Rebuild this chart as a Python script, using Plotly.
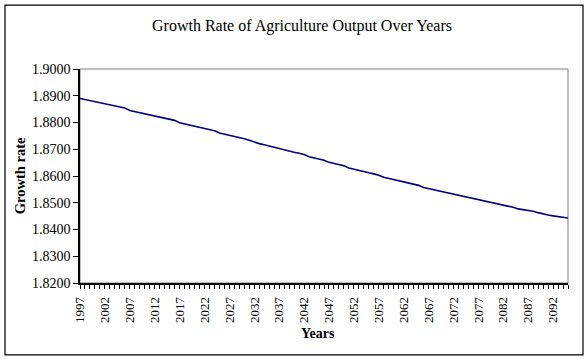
import plotly.graph_objects as go

# Yearly growth rate of agriculture output
years = list(range(1997, 2096))
growth_rate = [
    1.8890, 1.8886, 1.8882, 1.8878, 1.8874, 1.8870, 1.8866, 1.8862, 1.8858, 1.8854,
    1.8845, 1.8841, 1.8837, 1.8833, 1.8829, 1.8825, 1.8821, 1.8817, 1.8813, 1.8808,
    1.8799, 1.8795, 1.8791, 1.8787, 1.8783, 1.8778, 1.8774, 1.8769, 1.8761, 1.8757,
    1.8752, 1.8748, 1.8743, 1.8739, 1.8734, 1.8726, 1.8721, 1.8717, 1.8712, 1.8707,
    1.8703, 1.8698, 1.8694, 1.8689, 1.8685, 1.8680, 1.8672, 1.8667, 1.8663, 1.8659,
    1.8651, 1.8647, 1.8642, 1.8638, 1.8630, 1.8625, 1.8621, 1.8617, 1.8612, 1.8608,
    1.8603, 1.8595, 1.8591, 1.8587, 1.8582, 1.8578, 1.8574, 1.8569, 1.8565, 1.8557,
    1.8553, 1.8549, 1.8545, 1.8540, 1.8536, 1.8532, 1.8528, 1.8524, 1.8520, 1.8516,
    1.8511, 1.8507, 1.8503, 1.8499, 1.8495, 1.8491, 1.8487, 1.8483, 1.8477, 1.8474,
    1.8472, 1.8468, 1.8463, 1.8458, 1.8454, 1.8451, 1.8449, 1.8446, 1.8443,
]
label_years = list(range(1997, 2093, 5))
y_ticks = [1.82, 1.83, 1.84, 1.85, 1.86, 1.87, 1.88, 1.89, 1.90]

W, H = 588, 359
L, R, T, B = 80, 20, 68.5, 76
pw, ph = W - L - R, H - T - B

def px_x(x):
    return (x - L) / pw

def px_y(y):
    return (H - B - y) / ph

FONT = "Liberation Serif"

fig = go.Figure()
fig.add_trace(go.Scatter(
    x=years, y=growth_rate, mode="lines",
    line=dict(color="#000080", width=1.6),
    showlegend=False, hoverinfo="x+y",
))

fig.update_layout(
    width=W, height=H,
    margin=dict(l=L, r=R, t=T, b=B),
    paper_bgcolor="white", plot_bgcolor="white",
    font=dict(family=FONT, size=14, color="black"),
    xaxis=dict(
        range=[years[0], years[-1]],
        tickmode="array", tickvals=label_years,
        ticktext=[str(v) for v in label_years],
        tickangle=-90, ticks="outside", ticklen=4, tickcolor="black",
        tickfont=dict(family=FONT, size=13), ticklabelstandoff=3,
        minor=dict(dtick=1, tick0=1997, ticks="outside", ticklen=4, tickcolor="black"),
        showgrid=False, zeroline=False,
        showline=True, linecolor="black", linewidth=1.5,
    ),
    yaxis=dict(
        range=[1.82, 1.90],
        tickmode="array", tickvals=y_ticks,
        ticktext=[f"{v:.4f}" for v in y_ticks],
        ticks="outside", ticklen=5, tickcolor="black",
        tickfont=dict(family=FONT, size=14),
        showgrid=False, zeroline=False,
        showline=True, linecolor="black", linewidth=1.5,
    ),
    shapes=[
        # chart outer frame
        dict(type="rect", xref="paper", yref="paper",
             x0=px_x(5), x1=px_x(583), y0=px_y(355), y1=px_y(4.5),
             line=dict(color="black", width=1.2), layer="below"),
        # plot area frame (top and right edges)
        dict(type="rect", xref="paper", yref="paper",
             x0=0, x1=1, y0=0, y1=1,
             line=dict(color="#808080", width=1), layer="below"),
    ],
    annotations=[
        dict(text="Growth Rate of Agriculture Output Over Years",
             xref="paper", yref="paper", x=px_x(302), y=px_y(25),
             xanchor="center", yanchor="middle", showarrow=False,
             font=dict(family=FONT, size=16)),
        dict(text="<b>Growth rate</b>", textangle=-90,
             xref="paper", yref="paper", x=px_x(20), y=px_y(176),
             xanchor="center", yanchor="middle", showarrow=False,
             font=dict(family=FONT, size=14.5)),
        dict(text="<b>Years</b>",
             xref="paper", yref="paper", x=px_x(318), y=px_y(334),
             xanchor="center", yanchor="middle", showarrow=False,
             font=dict(family=FONT, size=14)),
    ],
)

fig.write_html("out.html")
